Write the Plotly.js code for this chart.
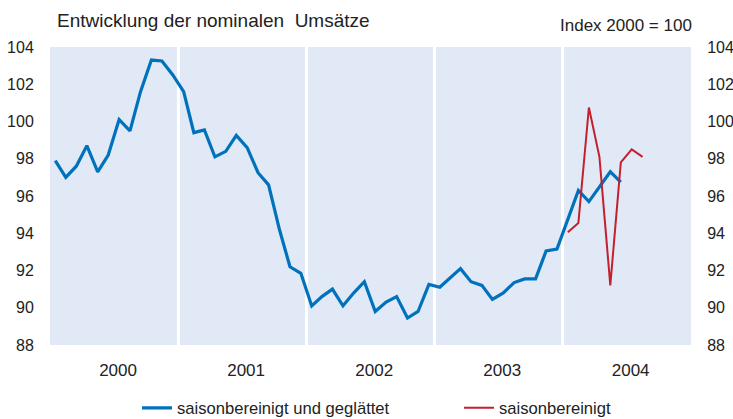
<!DOCTYPE html>
<html>
<head>
<meta charset="utf-8">
<script src="https://cdn.plot.ly/plotly-3.0.1.min.js"></script>
<style>html,body{margin:0;padding:0;background:#fff;}#chart{width:733px;height:419px;}</style>
</head>
<body>
<div id="chart"></div>
<script>
// Monthly positions (mid-month), Jan 2000 – Aug 2004
const months = [
  "2000-01-16","2000-02-15","2000-03-16","2000-04-15","2000-05-16","2000-06-15",
  "2000-07-16","2000-08-16","2000-09-15","2000-10-16","2000-11-15","2000-12-16",
  "2001-01-16","2001-02-14","2001-03-16","2001-04-15","2001-05-16","2001-06-15",
  "2001-07-16","2001-08-16","2001-09-15","2001-10-16","2001-11-15","2001-12-16",
  "2002-01-16","2002-02-14","2002-03-16","2002-04-15","2002-05-16","2002-06-15",
  "2002-07-16","2002-08-16","2002-09-15","2002-10-16","2002-11-15","2002-12-16",
  "2003-01-16","2003-02-14","2003-03-16","2003-04-15","2003-05-16","2003-06-15",
  "2003-07-16","2003-08-16","2003-09-15","2003-10-16","2003-11-15","2003-12-16",
  "2004-01-16","2004-02-15","2004-03-16","2004-04-15","2004-05-16","2004-06-15",
  "2004-07-16","2004-08-16"
];
// saisonbereinigt und geglättet (Jan 2000 – Jun 2004)
const smoothed = [
  97.9, 97.0, 97.6, 98.7, 97.3, 98.2, 100.1, 99.5, 101.6, 103.3, 103.25, 102.5,
  101.6, 99.4, 99.55, 98.1, 98.4, 99.25, 98.6, 97.25, 96.6, 94.2, 92.2, 91.85,
  90.1, 90.6, 91.0, 90.1, 90.8, 91.4, 89.8, 90.3, 90.6, 89.45, 89.8, 91.25,
  91.1, 91.6, 92.1, 91.4, 91.2, 90.45, 90.8, 91.35, 91.55, 91.55, 93.05, 93.15,
  94.7, 96.3, 95.7, 96.5, 97.3, 96.75
];
// saisonbereinigt (Jan 2004 – Aug 2004)
const adjustedMonths = months.slice(48, 56);
const adjusted = [94.05, 94.55, 100.75, 98.1, 91.2, 97.8, 98.5, 98.1];

const years = ["2000", "2001", "2002", "2003", "2004"];
const yearMid = ["2000-07-13", "2001-07-13", "2002-07-13", "2003-07-13", "2004-07-13"];
const yearBreaks = ["2001-01-01", "2002-01-01", "2003-01-01", "2004-01-01"];
const yTicks = [88, 90, 92, 94, 96, 98, 100, 102, 104];

const FONT = "Liberation Sans, Arial, sans-serif";
const TXT = "#222222";

const traces = [
  {
    x: months.slice(0, smoothed.length), y: smoothed,
    type: "scatter", mode: "lines",
    name: "saisonbereinigt und geglättet",
    line: {color: "#0072BB", width: 3.2},
    legend: "legend",
    hoverinfo: "skip"
  },
  {
    x: adjustedMonths, y: adjusted,
    type: "scatter", mode: "lines",
    name: "saisonbereinigt",
    yaxis: "y2",
    line: {color: "#C3202F", width: 2},
    legend: "legend2",
    hoverinfo: "skip"
  }
];

const shapes = yearBreaks.map(d => ({
  type: "line", xref: "x", yref: "paper",
  x0: d, x1: d, y0: 0, y1: 1,
  line: {color: "#ffffff", width: 3},
  layer: "below"
}));

const yax = {
  range: [88, 104], tickvals: yTicks, ticktext: yTicks.map(String),
  showgrid: false, zeroline: false, showline: false,
  ticks: "outside", ticklen: 12, tickcolor: "rgba(0,0,0,0)",
  tickfont: {family: FONT, size: 16, color: TXT},
  automargin: false,
  fixedrange: true
};

const legendBase = {
  orientation: "h",
  xanchor: "left",
  yref: "container", y: 1 - 408 / 419, yanchor: "middle",
  font: {family: FONT, size: 16.6, color: TXT},
  bgcolor: "rgba(0,0,0,0)", borderwidth: 0
};

const layout = {
  width: 733, height: 419,
  margin: {l: 50, r: 42, t: 47, b: 74},
  paper_bgcolor: "#ffffff",
  plot_bgcolor: "#E1E9F6",
  showlegend: true,
  title: {
    text: "Entwicklung der nominalen\u00a0 Umsätze",
    font: {family: FONT, size: 19, color: TXT},
    x: 57 / 733, xanchor: "left", xref: "container",
    y: 1 - 20 / 419, yanchor: "middle", yref: "container"
  },
  annotations: [{
    text: "Index 2000 = 100",
    xref: "paper", yref: "paper",
    x: (694 - 50) / 641, y: 1 + 22 / 298,
    xanchor: "right", yanchor: "middle",
    showarrow: false,
    font: {family: FONT, size: 17, color: TXT}
  }],
  xaxis: {
    type: "date",
    range: ["2000-01-01", "2005-01-01"],
    tickvals: yearMid, ticktext: years,
    showgrid: false, zeroline: false, showline: false,
    ticks: "outside", ticklen: 10, tickcolor: "rgba(0,0,0,0)",
    tickfont: {family: FONT, size: 17, color: TXT},
    automargin: false,
    fixedrange: true
  },
  yaxis: Object.assign({}, yax, {side: "left"}),
  yaxis2: Object.assign({}, yax, {side: "right", overlaying: "y"}),
  shapes: shapes,
  legend: Object.assign({}, legendBase, {x: (137 - 50) / 641}),
  legend2: Object.assign({}, legendBase, {x: (459 - 50) / 641})
};

Plotly.newPlot("chart", traces, layout, {displayModeBar: false, staticPlot: true});
</script>
</body>
</html>
